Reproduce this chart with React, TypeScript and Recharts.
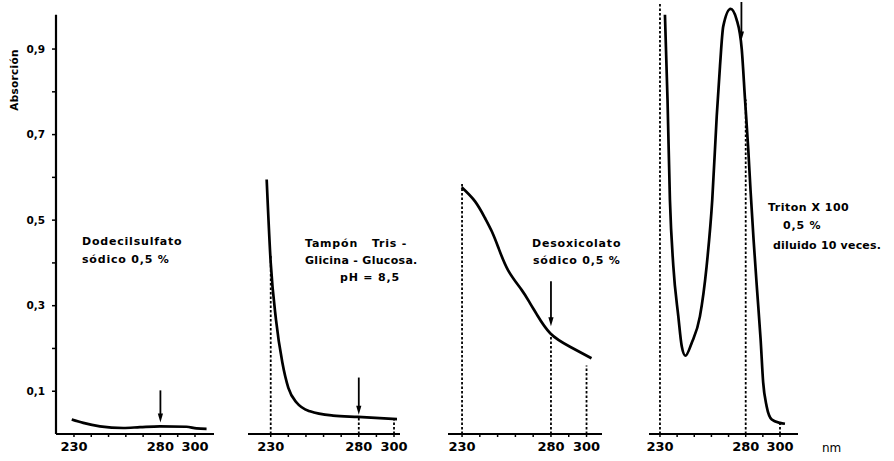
import React from 'react';
import { LineChart, Line, XAxis, YAxis, ReferenceLine } from 'recharts';

const W = 894;
const H = 461;
const FONT = "'DejaVu Sans', sans-serif";

// shared axes
const Y_DOMAIN: [number, number] = [0, 1.01];
const Y_AXIS_TOP = 0.98;
const Y_TICKS = [0.1, 0.2, 0.3, 0.4, 0.5, 0.6, 0.7, 0.8, 0.9];
const X_TICKS = [230, 240, 250, 260, 270, 280, 290, 300];
const X_LABELED = [230, 280, 300];

// Panel 1 – Dodecilsulfato sódico 0,5 %
const sdsNm = [228.7, 235.4, 245, 258.5, 268.2, 279.7, 295.1, 300.9, 306.7];
const sdsAbs = [0.034, 0.026, 0.018, 0.014, 0.016, 0.018, 0.017, 0.013, 0.012];
const sdsGuides: { nm: number; top: number }[] = [];
const sdsArrows = [{ nm: 280, from: 0.102, to: 0.027 }];

// Panel 2 – Tampón Tris-Glicina-Glucosa pH 8,5
const trisNm = [227.7, 230, 233, 236.6, 240, 244.8, 252.3, 265.4, 279.6, 301.7];
const trisAbs = [0.595, 0.4, 0.267, 0.167, 0.108, 0.073, 0.053, 0.043, 0.04, 0.035];
const trisGuides = [
  { nm: 230, top: 0.42 },
  { nm: 280, top: 0.04 },
  { nm: 300, top: 0.035 },
];
const trisArrows = [{ nm: 280, from: 0.132, to: 0.045 }];

// Panel 3 – Desoxicolato sódico 0,5 %
const docNm = [229.8, 237.3, 242.9, 246.7, 250.4, 256, 263.5, 268.2, 272.1, 279.7, 290.7, 302.8];
const docAbs = [0.577, 0.544, 0.505, 0.474, 0.436, 0.382, 0.337, 0.306, 0.279, 0.235, 0.204, 0.177];
const docGuides = [
  { nm: 230, top: 0.588 },
  { nm: 280, top: 0.235 },
  { nm: 300, top: 0.16 },
];
const docArrows = [{ nm: 280, from: 0.357, to: 0.252 }];

// Panel 4 – Triton X 100 0,5 % diluido 10 veces
const tritonNm = [
  232.9, 234.4, 235.8, 237.8, 240.7, 242.7, 244.8, 248.5, 253.3, 257.2, 260.5, 263.1, 265,
  266.9, 271.2, 274.7, 277.7, 279.6, 281.5, 282.8, 284.6, 286.6, 288.7, 290.2, 292.2, 295.2,
  300, 302.9,
];
const tritonAbs = [
  0.98, 0.782, 0.548, 0.392, 0.275, 0.205, 0.183, 0.213, 0.275, 0.392, 0.548, 0.743, 0.86,
  0.953, 0.994, 0.969, 0.899, 0.782, 0.665, 0.571, 0.454, 0.338, 0.221, 0.12, 0.065, 0.034,
  0.026, 0.024,
];
const tritonGuides = [
  { nm: 230, top: 1.01 },
  { nm: 280, top: 0.782 },
  { nm: 300, top: 0.026 },
];
const tritonArrows = [{ nm: 277.5, from: 1.01, to: 0.92 }];

const toData = (nm: number[], abs: number[]) => nm.map((x, i) => ({ nm: x, v: abs[i] }));

const arrowShape = (p: any) => {
  const { x1, y1, y2 } = p;
  const top = Math.min(y1, y2);
  const bot = Math.max(y1, y2);
  return (
    <g>
      <line x1={x1} y1={top} x2={x1} y2={bot - 5} stroke="#000" strokeWidth={1.8} />
      <path d={`M${x1 - 2.6},${bot - 9} L${x1 + 2.6},${bot - 9} L${x1},${bot} Z`} fill="#000" />
    </g>
  );
};

type PanelProps = {
  data: { nm: number; v: number }[];
  xDomain: [number, number];
  left: number;
  right: number;
  showY?: boolean;
  curve?: 'monotone' | 'natural';
  guides: { nm: number; top: number }[];
  arrows: { nm: number; from: number; to: number }[];
};

function Panel({ data, xDomain, left, right, showY, curve = 'monotone', guides, arrows }: PanelProps) {
  const yW = 40;
  return (
    <div style={{ position: 'absolute', left: 0, top: 0 }}>
      <LineChart
        width={W}
        height={H}
        data={data}
        margin={{ top: 2, bottom: 0, left: showY ? left - yW : left, right: W - right }}
      >
        <XAxis
          type="number"
          dataKey="nm"
          domain={xDomain}
          allowDataOverflow
          ticks={X_TICKS}
          interval={0}
          height={27}
          tickSize={3}
          tickMargin={5}
          tickFormatter={(t: number) => (X_LABELED.includes(t) ? String(t) : '')}
          axisLine={{ stroke: '#000', strokeWidth: 2 }}
          tickLine={{ stroke: '#000', strokeWidth: 1.5 }}
          tick={{ fill: '#000', fontSize: 13, fontWeight: 'bold', fontFamily: FONT }}
        />
        <YAxis
          type="number"
          domain={Y_DOMAIN}
          allowDataOverflow
          hide={!showY}
          width={yW}
          ticks={Y_TICKS}
          interval={0}
          axisLine={false}
          tickSize={4}
          tickMargin={7}
          tickFormatter={(t: number) =>
            Math.round(t * 10) % 2 === 1 ? t.toFixed(1).replace('.', ',') : ''
          }
          tickLine={{ stroke: '#000', strokeWidth: 1.5 }}
          tick={{ fill: '#000', fontSize: 10.5, fontWeight: 'bold', fontFamily: FONT }}
        />
        {showY && (
          <ReferenceLine
            segment={[
              { x: xDomain[0], y: 0 },
              { x: xDomain[0], y: Y_AXIS_TOP },
            ]}
            stroke="#000"
            strokeWidth={2.2}
            ifOverflow="visible"
          />
        )}
        {guides.map((g, i) => (
          <ReferenceLine
            key={'g' + i}
            segment={[
              { x: g.nm, y: 0 },
              { x: g.nm, y: g.top },
            ]}
            stroke="#000"
            strokeWidth={1.8}
            strokeDasharray="2.5 2"
            ifOverflow="visible"
          />
        ))}
        {arrows.map((a, i) => (
          <ReferenceLine
            key={'a' + i}
            segment={[
              { x: a.nm, y: a.from },
              { x: a.nm, y: a.to },
            ]}
            ifOverflow="visible"
            shape={arrowShape}
          />
        ))}
        <Line
          dataKey="v"
          type={curve}
          stroke="#000"
          strokeWidth={2.7}
          dot={false}
          activeDot={false}
          isAnimationActive={false}
        />
      </LineChart>
    </div>
  );
}

const txt = { fontFamily: FONT, fontWeight: 'bold' as const, fontSize: 11, fill: '#000', letterSpacing: 0.8 };

export default function App() {
  return (
    <div style={{ position: 'absolute', left: 0, top: 0, width: W, height: H, background: '#fff' }}>
      <Panel data={toData(sdsNm, sdsAbs)} xDomain={[219.6, 311]} left={56} right={214} showY guides={sdsGuides} arrows={sdsArrows} />
      <Panel data={toData(trisNm, trisAbs)} xDomain={[217.1, 303.4]} left={248} right={400} guides={trisGuides} arrows={trisArrows} />
      <Panel data={toData(docNm, docAbs)} xDomain={[222.1, 308.7]} left={448} right={602} curve="natural" guides={docGuides} arrows={docArrows} />
      <Panel data={toData(tritonNm, tritonAbs)} xDomain={[223.6, 310.5]} left={649} right={798} guides={tritonGuides} arrows={tritonArrows} />
      <svg width={W} height={H} style={{ position: 'absolute', left: 0, top: 0, pointerEvents: 'none' }}>
        <text x={14} y={80} transform="rotate(-90 14 80)" textAnchor="middle" dominantBaseline="central" style={{ ...txt, fontSize: 10.5, letterSpacing: 0.3 }}>
          Absorción
        </text>
        <text x={82} y={245} style={txt}>Dodecilsulfato</text>
        <text x={82} y={263} style={txt}>sódico  0,5 %</text>
        <text x={305} y={247} style={txt} xmlSpace="preserve">Tampón   Tris -</text>
        <text x={305} y={264} style={{ ...txt, letterSpacing: 0.3 }}>Glicina - Glucosa.</text>
        <text x={340} y={281} style={txt}>pH = 8,5</text>
        <text x={532} y={247} style={txt}>Desoxicolato</text>
        <text x={533} y={264} style={txt}>sódico  0,5 %</text>
        <text x={768} y={211} style={{ ...txt, letterSpacing: 0.5 }}>Triton X 100</text>
        <text x={783} y={229} style={txt}>0,5 %</text>
        <text x={773} y={249} style={{ ...txt, letterSpacing: 0.2 }}>diluido 10 veces.</text>
        <text x={822} y={452} style={{ fontFamily: FONT, fontSize: 12, fill: '#000' }}>nm</text>
      </svg>
    </div>
  );
}
